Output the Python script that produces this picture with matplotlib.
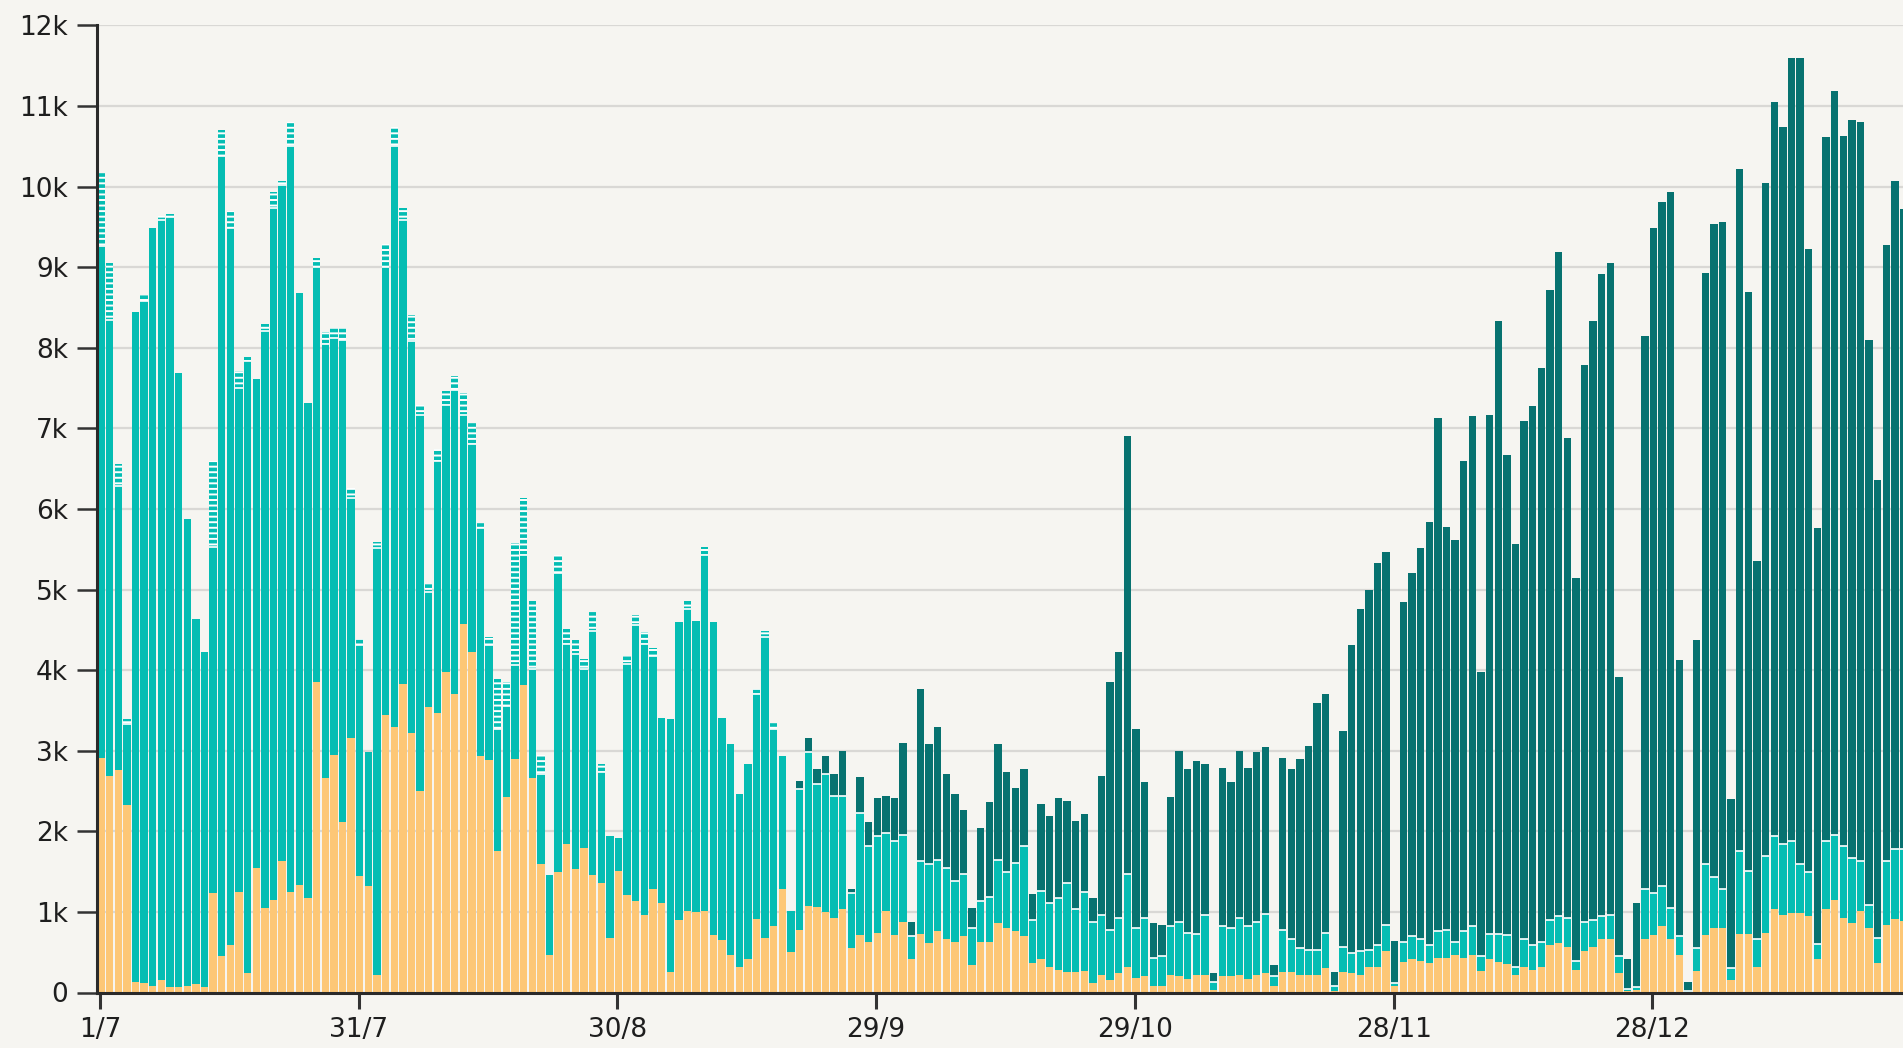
import numpy as np
import pandas as pd
import matplotlib
matplotlib.use("Agg")
import matplotlib.pyplot as plt

# ---- data (thousands), one value per day starting 1/7 ----
start_date = "2020-07-01"

orange = [
    2.91, 2.69, 2.76, 2.33, 0.13, 0.12, 0.08, 0.15, 0.07, 0.07,
    0.08, 0.10, 0.07, 1.24, 0.45, 0.59, 1.25, 0.24, 1.54, 1.05,
    1.15, 1.63, 1.25, 1.34, 1.17, 3.85, 2.66, 2.95, 2.12, 3.16,
    1.44, 1.32, 0.22, 3.44, 3.29, 3.83, 3.22, 2.50, 3.54, 3.47,
    3.98, 3.70, 4.57, 4.22, 2.94, 2.89, 1.76, 2.42, 2.90, 3.81,
    2.66, 1.59, 0.46, 1.49, 1.84, 1.53, 1.79, 1.46, 1.36, 0.68,
    1.51, 1.21, 1.13, 0.96, 1.29, 1.11, 0.26, 0.90, 1.01, 1.00,
    1.01, 0.71, 0.65, 0.46, 0.32, 0.42, 0.91, 0.68, 0.82, 1.28,
    0.50, 0.78, 1.07, 1.06, 1.00, 0.93, 1.03, 0.55, 0.71, 0.63,
    0.74, 1.01, 0.71, 0.88, 0.41, 0.72, 0.61, 0.76, 0.66, 0.63,
    0.70, 0.34, 0.63, 0.63, 0.86, 0.80, 0.76, 0.70, 0.37, 0.42,
    0.32, 0.28, 0.26, 0.26, 0.27, 0.12, 0.22, 0.16, 0.24, 0.32,
    0.18, 0.20, 0.08, 0.08, 0.22, 0.20, 0.17, 0.22, 0.22, 0.03,
    0.20, 0.20, 0.22, 0.17, 0.22, 0.24, 0.08, 0.26, 0.26, 0.22,
    0.22, 0.22, 0.31, 0.02, 0.26, 0.24, 0.22, 0.32, 0.32, 0.51,
    0.08, 0.38, 0.41, 0.39, 0.37, 0.43, 0.43, 0.46, 0.43, 0.47,
    0.27, 0.41, 0.38, 0.35, 0.22, 0.32, 0.28, 0.32, 0.59, 0.61,
    0.57, 0.28, 0.51, 0.56, 0.66, 0.66, 0.24, 0.02, 0.03, 0.66,
    0.71, 0.82, 0.66, 0.46, 0.00, 0.27, 0.71, 0.80, 0.80, 0.16,
    0.72, 0.72, 0.32, 0.74, 1.03, 0.96, 0.99, 0.99, 0.95, 0.42,
    1.03, 1.15, 0.92, 0.86, 1.01, 0.80, 0.37, 0.84, 0.91, 0.89,
]

# stacked level reached by the solid light-teal segment
teal_level = [
    9.26, 8.35, 6.28, 3.33, 8.44, 8.58, 9.49, 9.59, 9.62, 7.69,
    5.88, 4.64, 4.22, 5.53, 10.38, 9.49, 7.50, 7.83, 7.61, 8.21,
    9.73, 10.02, 10.50, 8.68, 7.31, 9.00, 8.05, 8.12, 8.10, 6.13,
    4.31, 2.98, 5.51, 9.00, 10.50, 9.58, 8.08, 7.17, 4.97, 6.59,
    7.29, 7.48, 7.17, 6.80, 5.76, 4.31, 3.27, 3.56, 4.06, 5.43,
    4.02, 2.71, 1.46, 5.20, 4.33, 4.20, 4.02, 4.49, 2.73, 1.94,
    1.92, 4.07, 4.56, 4.33, 4.17, 3.41, 3.39, 4.60, 4.76, 4.61,
    5.43, 4.60, 3.41, 3.08, 2.46, 2.83, 3.71, 4.41, 3.27, 2.94,
    1.01, 2.52, 2.98, 2.59, 2.71, 2.44, 2.44, 1.24, 2.23, 1.82,
    1.94, 1.98, 1.88, 1.96, 0.70, 1.63, 1.59, 1.65, 1.54, 1.38,
    1.47, 0.80, 1.13, 1.18, 1.65, 1.50, 1.61, 1.82, 0.90, 1.26,
    1.11, 1.17, 1.36, 1.03, 1.25, 0.88, 0.96, 0.78, 0.92, 1.47,
    0.80, 0.93, 0.43, 0.45, 0.82, 0.88, 0.74, 0.72, 0.96, 0.13,
    0.82, 0.80, 0.92, 0.82, 0.88, 0.97, 0.20, 0.78, 0.66, 0.55,
    0.53, 0.53, 0.74, 0.08, 0.57, 0.49, 0.51, 0.53, 0.59, 0.84,
    0.12, 0.63, 0.70, 0.67, 0.59, 0.76, 0.78, 0.63, 0.76, 0.82,
    0.45, 0.72, 0.72, 0.71, 0.32, 0.67, 0.59, 0.63, 0.90, 0.95,
    0.93, 0.39, 0.88, 0.90, 0.95, 0.96, 0.45, 0.04, 0.07, 1.28,
    1.24, 1.32, 1.05, 0.70, 0.02, 0.55, 1.59, 1.43, 1.29, 0.31,
    1.76, 1.51, 0.67, 1.69, 1.94, 1.84, 1.88, 1.59, 1.49, 0.60,
    1.88, 1.96, 1.82, 1.67, 1.63, 1.09, 0.68, 1.63, 1.78, 1.78,
]

# stacked level reached by the hatched (pending) segment, first 81 days
hatch_level = [
    10.17, 9.05, 6.56, 3.39, 8.44, 8.66, 9.49, 9.64, 9.66, 7.69,
    5.88, 4.64, 4.22, 6.60, 10.70, 9.70, 7.71, 7.88, 7.61, 8.30,
    9.93, 10.07, 10.80, 8.68, 7.31, 9.11, 8.19, 8.25, 8.25, 6.26,
    4.39, 2.98, 5.59, 9.29, 10.74, 9.73, 8.41, 7.29, 5.07, 6.74,
    7.46, 7.65, 7.44, 7.07, 5.83, 4.41, 3.89, 3.85, 5.58, 6.13,
    4.86, 2.95, 1.46, 5.43, 4.51, 4.37, 4.14, 4.72, 2.83, 1.94,
    1.92, 4.18, 4.68, 4.47, 4.28, 3.41, 3.39, 4.60, 4.86, 4.61,
    5.53, 4.60, 3.41, 3.08, 2.46, 2.83, 3.77, 4.49, 3.34, 2.94,
    1.01,
]

# stacked level reached by the dark-teal segment, from day 81 (19/9) on
dark_level = [
    2.62, 3.16, 2.77, 2.94, 2.71, 3.00, 1.28, 2.67, 2.11,
    2.41, 2.44, 2.41, 3.09, 0.88, 3.77, 3.08, 3.29, 2.71, 2.46,
    2.27, 1.05, 2.04, 2.36, 3.08, 2.73, 2.54, 2.77, 1.22, 2.34,
    2.19, 2.41, 2.38, 2.13, 2.21, 1.17, 2.69, 3.85, 4.22, 6.90,
    3.27, 2.61, 0.86, 0.84, 2.42, 3.00, 2.77, 2.87, 2.84, 0.24,
    2.79, 2.61, 3.00, 2.79, 2.98, 3.05, 0.34, 2.91, 2.77, 2.90,
    3.06, 3.59, 3.71, 0.26, 3.24, 4.31, 4.76, 4.99, 5.33, 5.46,
    0.64, 4.85, 5.20, 5.51, 5.84, 7.13, 5.78, 5.62, 6.59, 7.15,
    3.98, 7.17, 8.33, 6.67, 5.57, 7.09, 7.28, 7.75, 8.72, 9.19,
    6.88, 5.14, 7.79, 8.33, 8.91, 9.05, 3.91, 0.41, 1.11, 8.15,
    9.49, 9.81, 9.93, 4.12, 0.13, 4.37, 8.93, 9.54, 9.56, 2.40,
    10.22, 8.69, 5.36, 10.05, 11.05, 10.74, 11.59, 11.60, 9.23, 5.76,
    10.61, 11.18, 10.63, 10.82, 10.80, 8.10, 6.36, 9.27, 10.07, 9.72,
]

tick_labels = ["1/7", "31/7", "30/8", "29/9", "29/10", "28/11", "28/12"]
y_ticks = [0, 1, 2, 3, 4, 5, 6, 7, 8, 9, 10, 11, 12]
y_tick_labels = ["0", "1k", "2k", "3k", "4k", "5k", "6k", "7k", "8k", "9k", "10k", "11k", "12k"]

# ---- derive segment heights ----
n = len(orange)
orange_a = np.array(orange) * 1000
teal_top = np.array(teal_level) * 1000
hatch_top = teal_top.copy()
hatch_top[:len(hatch_level)] = np.array(hatch_level) * 1000
dark_top = teal_top.copy()
dark_top[n - len(dark_level):] = np.array(dark_level) * 1000

teal_h = teal_top - orange_a
hatch_h = np.clip(hatch_top - teal_top, 0, None)
dark_h = np.clip(dark_top - teal_top, 0, None)

days = np.arange(n)
start = pd.Timestamp(start_date)
tick_pos = [(pd.Timestamp(year=2020, month=int(l.split("/")[1]), day=int(l.split("/")[0])) - start).days
            for l in tick_labels]

# ---- style ----
BG = "#f6f5f1"
C_ORANGE = "#fdc776"
C_TEAL = "#05bdb3"
C_DARK = "#077270"
plt.rcParams["font.family"] = ["DejaVu Sans"]
plt.rcParams["hatch.linewidth"] = 2.6

fig = plt.figure(figsize=(19.03, 10.48), dpi=100, facecolor=BG)
ax = fig.add_axes([97.3 / 1903, 55.5 / 1048, (1903 - 97.3) / 1903, 967.1 / 1048])
ax.set_facecolor(BG)

W = 0.85
x0 = days - 0.3
ax.bar(x0, orange_a, width=W, align="edge", color=C_ORANGE, linewidth=0, zorder=2)
ax.bar(x0, teal_h, bottom=orange_a, width=W, align="edge", color=C_TEAL, linewidth=0, zorder=2)
ax.bar(x0, hatch_h, bottom=teal_top, width=W, align="edge", facecolor="#ffffff",
       edgecolor=C_TEAL, hatch="---", linewidth=0, zorder=2)
ax.bar(x0, dark_h, bottom=teal_top, width=W, align="edge", color=C_DARK, linewidth=0, zorder=2)

# thin white separator on top of the light teal where something is stacked above
sep = (hatch_h > 0) | (dark_h > 0)
ax.hlines(teal_top[sep], x0[sep], x0[sep] + W, colors="white", linewidth=1.2, zorder=3)

ax.set_xlim(-0.3, n - 0.95)
ax.set_ylim(0, 12000)
ax.set_yticks(np.array(y_ticks) * 1000)
ax.set_yticklabels(y_tick_labels)
ax.set_xticks(tick_pos)
ax.set_xticklabels(tick_labels)

ax.grid(axis="y", color="#d9d8d5", linewidth=1.6, zorder=0)
ax.set_axisbelow(True)

for s in ["top", "right"]:
    ax.spines[s].set_visible(False)
for s in ["left", "bottom"]:
    ax.spines[s].set_color("#2a2a2a")
    ax.spines[s].set_linewidth(2.2)
    ax.spines[s].set_zorder(4)

ax.tick_params(axis="y", length=14.5, width=1.8, color="#333333", pad=6.5,
               labelsize=19, labelcolor="#1e1e1e")
ax.tick_params(axis="x", length=11.5, width=2.2, color="#333333", pad=6,
               labelsize=19, labelcolor="#1e1e1e")

fig.savefig("out.png", dpi=100, facecolor=BG)
